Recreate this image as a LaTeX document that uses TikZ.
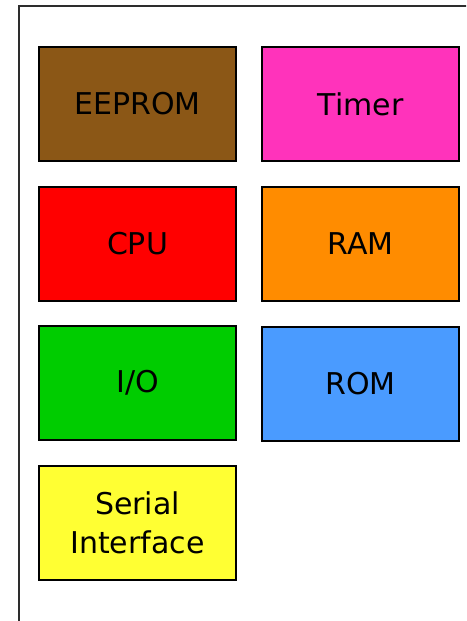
\documentclass[tikz,border=0pt]{standalone}
\usepackage{fontspec}
\setmainfont{DejaVu Sans}
\usepackage{tikz}
\usetikzlibrary{positioning}
\definecolor{eeprombrown}{RGB}{139,87,22}
\definecolor{timerpink}{RGB}{255,51,187}
\definecolor{ramorange}{RGB}{255,140,0}
\definecolor{iogreen}{RGB}{0,204,0}
\definecolor{romblue}{RGB}{74,155,255}
\definecolor{serialyellow}{RGB}{255,255,51}
\definecolor{framegray}{RGB}{45,45,45}
\tikzset{
 blk/.style={draw=black, line width=2.4pt, minimum width=197pt, minimum height=114pt,
  inner sep=0pt, align=center, font=\fontsize{30}{39}\selectfont},
}

\begin{document}
\begin{tikzpicture}[x=1pt,y=-1pt]
 \useasboundingbox (0,0) rectangle (466,621);
 \clip (0,0) rectangle (466,621);
 \fill[white] (0,0) rectangle (466,621);
 \draw[framegray, line width=2.2pt] (19,6) rectangle (480,640);

 \node[blk, fill=eeprombrown] (eeprom) at (137.5,104) {EEPROM};
 \node[blk, fill=timerpink] (timer) at (360.5,104) {Timer};
 \node[blk, fill=red] (cpu) at (137.5,244) {CPU};
 \node[blk, fill=ramorange] (ram) at (360.5,244) {RAM};
 \node[blk, fill=iogreen] (io) at (137.5,383) {I/O};
 \node[blk, fill=romblue] (rom) at (360.5,384) {ROM};
 \node[blk, fill=serialyellow] (serial) at (137.5,523) {Serial\\Interface};
\end{tikzpicture}
\end{document}
